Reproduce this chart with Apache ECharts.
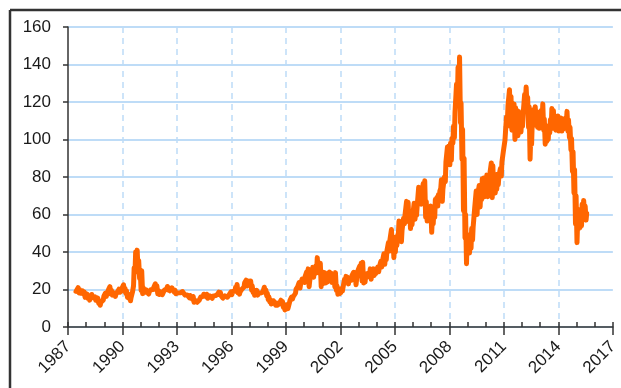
<!DOCTYPE html>
<html>
<head>
<meta charset="utf-8">
<script src="https://cdn.jsdelivr.net/npm/echarts@6/dist/echarts.min.js"></script>
<style>
  html, body { margin: 0; padding: 0; background: #ffffff; }
  #chart { width: 621px; height: 388px; }
</style>
</head>
<body>
<div id="chart"></div>
<script>
// Brent crude spot price, US$ per barrel: monthly trading range (low / high),
// June 1987 through July 2015.
const firstYear = 1987;
const firstMonth = 6;

const monthLow = [
  19.0, 19.3, 18.2, 18.0, 18.3, 17.6, 15.8,
  16.2, 15.2, 14.3, 15.8, 15.8, 14.9, 14.3, 14.3, 12.6, 11.6, 12.4, 14.3,
  16.3, 16.3, 17.6, 19.2, 17.6, 17.0, 17.0, 16.3, 17.4, 18.9, 18.5, 18.8,
  20.0, 19.0, 17.8, 15.8, 15.3, 14.0, 15.5, 22.0, 30.0, 29.5, 30.0, 26.0,
  19.5, 17.8, 18.5, 18.6, 18.7, 17.6, 19.0, 19.2, 20.0, 21.5, 20.0, 17.8,
  17.3, 17.5, 17.2, 18.2, 19.3, 20.5, 19.7, 19.3, 19.8, 19.8, 18.5, 17.8,
  16.9, 18.1, 18.3, 18.3, 17.9, 17.0, 16.1, 16.4, 15.6, 16.3, 14.7, 13.2,
  13.6, 13.2, 13.2, 14.5, 15.7, 16.3, 17.3, 16.1, 15.3, 15.7, 16.6, 15.3,
  16.1, 16.7, 16.5, 17.6, 17.3, 16.5, 15.4, 15.8, 16.2, 15.9, 16.6, 17.5,
  17.3, 18.0, 19.0, 19.6, 18.3, 17.5, 19.0, 19.8, 21.3, 22.6, 21.9, 22.8,
  22.5, 19.8, 18.5, 16.9, 18.3, 17.0, 17.9, 18.1, 17.7, 19.5, 18.5, 16.6,
  14.6, 13.5, 12.3, 12.8, 13.7, 11.6, 11.6, 11.5, 12.5, 12.2, 10.5, 9.1,
  10.4, 9.8, 10.8, 14.6, 14.9, 15.2, 18.0, 19.5, 21.5, 20.8, 23.3, 24.6,
  23.8, 26.3, 24.0, 21.5, 25.5, 28.0, 26.5, 28.5, 30.5, 29.0, 31.0, 21.5,
  23.0, 26.0, 23.5, 24.0, 27.0, 26.0, 23.8, 24.5, 21.5, 19.5, 17.5, 17.7,
  18.3, 19.2, 21.5, 24.0, 24.5, 23.0, 24.5, 25.0, 27.0, 26.5, 22.5, 26.0,
  29.5, 30.5, 24.5, 23.5, 24.0, 26.5, 27.5, 28.5, 25.5, 28.5, 27.5, 28.5,
  29.5, 29.5, 32.0, 32.0, 35.0, 33.5, 36.0, 40.0, 40.5, 46.0, 40.5, 37.0,
  40.0, 43.5, 50.0, 49.5, 45.5, 50.5, 55.0, 59.5, 59.5, 56.0, 52.5, 54.5,
  58.5, 57.5, 59.5, 65.0, 67.0, 65.5, 71.5, 70.0, 58.5, 56.5, 57.0, 60.5,
  50.5, 55.0, 58.5, 65.0, 64.5, 68.5, 74.0, 67.0, 74.5, 77.5, 88.0, 88.5,
  86.5, 89.0, 98.0, 101.0, 114.5, 122.5, 123.0, 109.0, 89.5, 62.0, 47.5, 33.7,
  39.5, 39.5, 42.0, 46.5, 52.5, 63.0, 60.0, 69.5, 64.0, 68.0, 75.0, 69.5,
  71.0, 69.5, 76.5, 81.5, 69.0, 72.0, 71.5, 73.5, 76.0, 80.0, 80.5, 89.0,
  93.5, 99.5, 109.5, 117.5, 107.0, 105.0, 113.5, 100.0, 103.5, 102.0, 106.5, 104.0,
  107.0, 113.5, 121.0, 117.5, 106.5, 89.5, 97.5, 109.0, 109.0, 107.5, 106.5, 106.0,
  110.0, 111.5, 105.0, 97.5, 99.0, 100.0, 103.5, 107.0, 106.0, 106.5, 105.0, 109.0,
  104.5, 106.5, 104.5, 105.5, 107.5, 109.5, 104.5, 101.0, 94.5, 83.0, 71.5, 55.0,
  45.0, 52.5, 53.0, 54.0, 62.0, 60.0, 57.0
];

const monthHigh = [
  20.0, 21.0, 19.9, 18.8, 19.2, 18.7, 17.9,
  17.5, 16.3, 15.3, 17.3, 16.8, 16.1, 15.6, 15.4, 14.0, 13.2, 13.8, 16.5,
  18.0, 17.6, 19.8, 21.5, 19.6, 18.4, 18.1, 17.5, 18.7, 20.2, 19.5, 20.8,
  22.5, 20.6, 19.2, 17.6, 17.0, 15.8, 19.0, 31.5, 40.0, 41.0, 35.5, 30.5,
  30.0, 21.0, 19.8, 19.8, 19.6, 18.8, 19.9, 20.5, 21.2, 23.0, 22.0, 19.5,
  18.8, 18.7, 18.2, 19.7, 20.5, 21.6, 20.8, 20.2, 20.8, 20.8, 19.6, 18.8,
  18.2, 19.0, 19.1, 18.9, 18.7, 18.0, 17.1, 17.2, 16.8, 17.4, 16.3, 14.4,
  14.9, 14.0, 14.3, 16.0, 16.7, 17.5, 18.4, 17.5, 16.3, 16.6, 17.6, 16.4,
  17.1, 17.5, 17.3, 18.6, 18.4, 17.5, 16.4, 16.6, 16.9, 16.6, 17.4, 18.7,
  18.9, 19.2, 21.2, 22.7, 19.6, 18.8, 20.0, 21.0, 23.6, 25.0, 23.4, 24.5,
  24.5, 22.0, 19.8, 18.2, 19.5, 18.3, 18.9, 19.0, 18.6, 21.2, 19.8, 18.0,
  16.2, 14.6, 13.9, 14.0, 15.0, 12.8, 12.6, 12.4, 14.3, 13.6, 12.0, 10.5,
  11.8, 11.0, 14.2, 16.0, 16.0, 16.9, 20.2, 21.4, 23.7, 22.9, 25.6, 26.4,
  27.0, 29.4, 31.0, 24.5, 30.0, 31.8, 30.5, 32.5, 37.0, 33.5, 34.0, 29.5,
  27.5, 29.0, 26.5, 27.5, 29.3, 28.8, 26.0, 27.6, 29.0, 22.0, 20.5, 19.8,
  20.5, 21.0, 25.5, 27.0, 26.5, 25.5, 26.5, 27.5, 29.2, 29.0, 25.5, 30.5,
  32.5, 34.0, 34.5, 27.0, 28.0, 28.5, 29.0, 31.0, 28.5, 31.0, 30.0, 31.0,
  32.0, 32.0, 35.0, 35.0, 39.0, 37.5, 40.5, 45.0, 46.5, 52.0, 47.5, 42.0,
  48.0, 48.5, 56.5, 55.5, 51.5, 58.0, 60.0, 67.0, 66.5, 61.5, 58.0, 59.0,
  66.0, 63.5, 64.5, 74.5, 72.5, 71.0, 76.5, 78.0, 67.0, 60.5, 61.5, 64.5,
  57.5, 61.0, 68.0, 69.0, 70.5, 72.5, 78.5, 73.5, 80.0, 88.0, 96.0, 96.5,
  98.0, 100.5, 107.0, 114.5, 129.5, 138.5, 144.0, 119.5, 105.5, 90.0, 60.0, 47.0,
  49.0, 46.5, 52.5, 53.5, 63.5, 72.5, 70.5, 75.5, 71.5, 79.0, 79.5, 78.5,
  81.0, 77.5, 81.5, 87.5, 86.0, 78.5, 78.0, 81.5, 80.5, 84.5, 88.0, 94.0,
  99.5, 112.0, 118.0, 126.5, 123.0, 118.5, 119.0, 117.0, 115.5, 115.0, 113.5, 110.5,
  113.5, 124.0, 128.0, 122.5, 117.5, 100.5, 108.0, 116.0, 117.5, 115.0, 111.5, 112.0,
  115.5, 119.0, 111.0, 107.5, 105.5, 106.5, 110.5, 116.5, 115.5, 111.5, 112.0, 112.5,
  110.5, 111.5, 110.0, 110.0, 111.5, 115.0, 110.5, 106.5, 100.5, 93.5, 84.0, 70.0,
  55.5, 62.5, 60.0, 65.5, 67.5, 64.5, 60.5
];

const yearTicks = [1987, 1990, 1993, 1996, 1999, 2002, 2005, 2008, 2011, 2014, 2017];
const priceTicks = [0, 20, 40, 60, 80, 100, 120, 140, 160];

// Each month contributes its low and then its high, placed inside the month.
const points = [];
for (let i = 0; i < monthLow.length; i++) {
  const monthStart = firstYear + (firstMonth - 1 + i) / 12;
  points.push([monthStart + 0.3 / 12, monthLow[i]]);
  points.push([monthStart + 0.7 / 12, monthHigh[i]]);
}

const axisFont = "'Liberation Sans', Arial, sans-serif";
const inkColor = '#1a1a1a';

const chart = echarts.init(document.getElementById('chart'), null, { renderer: 'canvas' });
chart.setOption({
  animation: false,
  backgroundColor: '#ffffff',
  grid: { left: 68, right: 4, top: 27, bottom: 61, containLabel: false },
  xAxis: [
    {
      type: 'value',
      min: yearTicks[0],
      max: yearTicks[yearTicks.length - 1],
      interval: yearTicks[1] - yearTicks[0],
      axisLine: { show: true, onZero: false, lineStyle: { color: '#333', width: 1.5 } },
      axisTick: { show: true, inside: false, length: 8, lineStyle: { color: '#333', width: 1.5 } },
      axisLabel: {
        rotate: 45,
        margin: 17,
        color: inkColor,
        fontFamily: axisFont,
        fontSize: 17,
        formatter: v => String(v)
      },
      splitLine: {
        show: true,
        showMinLine: false,
        showMaxLine: false,
        lineStyle: { color: '#bddcf8', width: 1.5, type: [6, 5] }
      }
    },
    {
      // one small inward tick per year
      type: 'value',
      position: 'bottom',
      min: yearTicks[0],
      max: yearTicks[yearTicks.length - 1],
      interval: 1,
      axisLine: { show: false, onZero: false },
      axisTick: { show: true, inside: true, length: 5, lineStyle: { color: '#333', width: 1.5 } },
      axisLabel: { show: false },
      splitLine: { show: false }
    }
  ],
  yAxis: {
    type: 'value',
    min: priceTicks[0],
    max: priceTicks[priceTicks.length - 1],
    interval: priceTicks[1] - priceTicks[0],
    axisLine: { show: true, lineStyle: { color: '#333', width: 1.5 } },
    axisTick: { show: true, inside: false, length: 5, lineStyle: { color: '#333', width: 1.5 } },
    axisLabel: {
      margin: 17,
      color: inkColor,
      fontFamily: axisFont,
      fontSize: 17
    },
    splitLine: { show: true, lineStyle: { color: '#a9d0f5', width: 1.5 } }
  },
  series: [
    {
      type: 'line',
      xAxisIndex: 0,
      data: points,
      showSymbol: false,
      symbol: 'none',
      z: 5,
      lineStyle: { color: '#ff6600', width: 5, cap: 'round', join: 'round' }
    }
  ],
  graphic: [
    { type: 'line', shape: { x1: 10, y1: 10, x2: 621, y2: 10 }, style: { stroke: '#333', lineWidth: 2.5 } },
    { type: 'line', shape: { x1: 10, y1: 10, x2: 10, y2: 388 }, style: { stroke: '#333', lineWidth: 2.5 } }
  ]
});
</script>
</body>
</html>
